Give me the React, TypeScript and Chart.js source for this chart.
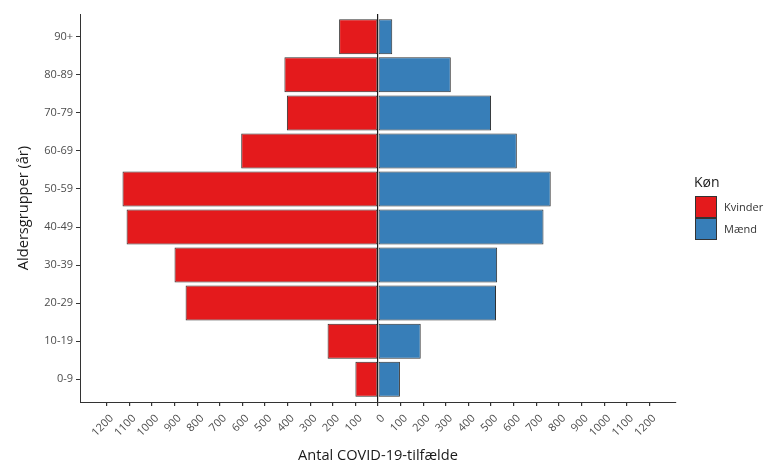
import React, { useEffect, useRef } from 'react';
import { Chart, registerables } from 'chart.js';

Chart.register(...registerables);

const ageGroups = ['0-9', '10-19', '20-29', '30-39', '40-49', '50-59', '60-69', '70-79', '80-89', '90+'];
const womenCases = [100, 223, 851, 900, 1112, 1130, 605, 403, 414, 172];
const menCases = [97, 189, 522, 527, 732, 764, 614, 500, 322, 63];
const xTickValues = [-1200, -1100, -1000, -900, -800, -700, -600, -500, -400, -300, -200, -100, 0, 100, 200, 300, 400, 500, 600, 700, 800, 900, 1000, 1100, 1200];
const xLimit = 1318;
const seriesNames = ['Kvinder', 'Mænd'];
const seriesColors = ['#E41A1C', '#377EB8'];
const legendTitle = 'Køn';
const xTitle = 'Antal COVID-19-tilfælde';
const yTitle = 'Aldersgrupper (år)';

const FONT = "'Open Sans', sans-serif";

export default function App() {
  const canvasRef = useRef<HTMLCanvasElement | null>(null);

  useEffect(() => {
    const canvas = canvasRef.current;
    if (!canvas) return;
    const chart = new Chart(canvas, {
      type: 'bar',
      data: {
        datasets: [
          {
            label: seriesNames[0],
            data: womenCases.map((v, i) => ({ x: -v, y: i })),
            backgroundColor: seriesColors[0],
          },
          {
            label: seriesNames[1],
            data: menCases.map((v, i) => ({ x: v, y: i })),
            backgroundColor: seriesColors[1],
          },
        ],
      },
      options: {
        indexAxis: 'y',
        responsive: false,
        animation: false,
        layout: { padding: { left: 0, right: 89, top: 14, bottom: 0 } },
        datasets: {
          bar: {
            grouped: false,
            barPercentage: 0.92,
            categoryPercentage: 1,
            borderColor: '#303030',
            borderWidth: 1,
            borderSkipped: false,
          },
        },
        plugins: {
          legend: { display: false },
          tooltip: { enabled: false },
        },
        scales: {
          x: {
            type: 'linear',
            min: -xLimit,
            max: xLimit,
            z: 1,
            afterBuildTicks: (axis: any) => {
              axis.ticks = xTickValues.map((v) => ({ value: v }));
            },
            afterFit: (scale: any) => {
              scale.height = 64;
            },
            ticks: {
              autoSkip: false,
              minRotation: 45,
              maxRotation: 45,
              padding: 6,
              labelOffset: 5,
              color: '#4D4D4D',
              font: { family: FONT, size: 11 },
              callback: (v: any) => String(Math.abs(Number(v))),
            },
            grid: {
              drawOnChartArea: true,
              drawTicks: true,
              tickLength: 4,
              lineWidth: 1.2,
              color: (ctx: any) => (ctx.tick && ctx.tick.value === 0 ? '#1a1a1a' : 'rgba(0,0,0,0)'),
              tickColor: '#333333',
            },
            border: { display: true, color: '#333333', width: 1 },
            title: {
              display: true,
              text: xTitle,
              color: '#1a1a1a',
              font: { family: FONT, size: 14.6 },
              padding: 1,
            },
          },
          y: {
            type: 'linear',
            offset: false,
            min: -0.6,
            max: ageGroups.length - 1 + 0.6,
            afterBuildTicks: (axis: any) => {
              axis.ticks = ageGroups.map((_, i) => ({ value: i }));
            },
            afterFit: (scale: any) => {
              scale.width = 80;
            },
            ticks: {
              autoSkip: false,
              padding: 3,
              color: '#4D4D4D',
              font: { family: FONT, size: 11 },
              callback: (v: any) => ageGroups[Number(v)] ?? '',
            },
            grid: {
              offset: false,
              drawOnChartArea: false,
              drawTicks: true,
              tickLength: 4,
              tickColor: '#333333',
            },
            border: { display: true, color: '#333333', width: 1 },
            title: {
              display: true,
              text: yTitle,
              color: '#1a1a1a',
              font: { family: FONT, size: 14.6 },
              padding: 15,
            },
          },
        },
      },
    } as any);
    return () => chart.destroy();
  }, []);

  const keyStyle = (top: number, color: string): React.CSSProperties => ({
    position: 'absolute',
    left: 695,
    top,
    width: 22,
    height: 22,
    boxSizing: 'border-box',
    background: color,
    border: '1px solid #333333',
  });
  const labelStyle = (top: number): React.CSSProperties => ({
    position: 'absolute',
    left: 724,
    top,
    height: 22,
    lineHeight: '22px',
    fontFamily: FONT,
    fontSize: 11,
    color: '#333333',
    whiteSpace: 'nowrap',
  });

  return (
    <div style={{ position: 'fixed', left: 0, top: 0, width: 765, height: 466, background: '#ffffff' }}>
      <canvas ref={canvasRef} width={765} height={466} style={{ display: 'block', width: 765, height: 466 }} />
      <div
        style={{
          position: 'absolute',
          left: 694,
          top: 172,
          fontFamily: FONT,
          fontSize: 14,
          color: '#1a1a1a',
          lineHeight: '20px',
        }}
      >
        {legendTitle}
      </div>
      <div style={keyStyle(196, seriesColors[0])} />
      <div style={keyStyle(218, seriesColors[1])} />
      <div style={labelStyle(196)}>{seriesNames[0]}</div>
      <div style={labelStyle(218)}>{seriesNames[1]}</div>
    </div>
  );
}
